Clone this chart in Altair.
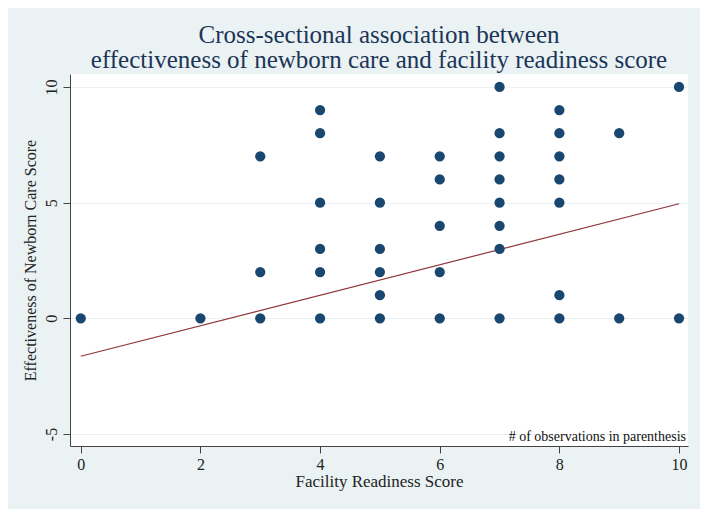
import altair as alt
import pandas as pd

# Observed points (Facility readiness score, Effectiveness of newborn care score)
readiness = [0, 2, 3, 3, 3, 4, 4, 4, 4, 4, 4, 5, 5, 5, 5, 5, 5,
             6, 6, 6, 6, 6, 7, 7, 7, 7, 7, 7, 7, 7,
             8, 8, 8, 8, 8, 8, 8, 9, 9, 10, 10]
effectiveness = [0, 0, 7, 2, 0, 9, 8, 5, 3, 2, 0, 7, 5, 3, 2, 1, 0,
                 7, 6, 4, 2, 0, 10, 8, 7, 6, 5, 4, 3, 0,
                 9, 8, 7, 6, 5, 1, 0, 8, 0, 10, 0]

# Fitted line endpoints
fit_x = [0, 10]
fit_y = [-1.64, 4.95]

x_ticks = [0, 2, 4, 6, 8, 10]
y_ticks = [-5, 0, 5, 10]

title_lines = ["Cross-sectional association between",
               "effectiveness of newborn care and facility readiness score"]
note = "# of observations in parenthesis"

SERIF = "Liberation Serif"
BG = "#EAF2F3"
NAVY = "#1a476f"
MAROON = "#90353b"

pts = pd.DataFrame({"x": readiness, "y": effectiveness})
fit = pd.DataFrame({"x": fit_x, "y": fit_y})
note_df = pd.DataFrame({"t": [note]})

xscale = alt.Scale(domain=[-0.18, 10.15], nice=False, zero=False)
yscale = alt.Scale(domain=[-5.52, 10.56], nice=False, zero=False)

xaxis = alt.Axis(values=x_ticks, title="Facility Readiness Score", grid=False,
                 labelExpr="'' + datum.value",
                 labelFont=SERIF, labelFontSize=16, titleFont=SERIF, titleFontSize=17,
                 titleFontWeight="normal", labelColor="#222", titleColor="#222",
                 domainColor="#444", tickColor="#444", tickSize=7, labelPadding=3,
                 titlePadding=1)
yaxis = alt.Axis(values=y_ticks, title="Effectiveness of Newborn Care Score",
                 grid=True, gridColor=BG, gridWidth=1.2,
                 labelExpr="'' + datum.value",
                 labelFont=SERIF, labelFontSize=16, titleFont=SERIF, titleFontSize=16,
                 titleFontWeight="normal", labelColor="#222", titleColor="#222",
                 domainColor="#444", tickColor="#444", tickSize=7, labelAngle=270,
                 labelPadding=4, titlePadding=5)

points = alt.Chart(pts).mark_circle(size=105, color=NAVY, opacity=1).encode(
    x=alt.X("x:Q", scale=xscale, axis=xaxis),
    y=alt.Y("y:Q", scale=yscale, axis=yaxis),
)

line = alt.Chart(fit).mark_line(color=MAROON, strokeWidth=1.2).encode(
    x=alt.X("x:Q", scale=xscale),
    y=alt.Y("y:Q", scale=yscale),
)

text = alt.Chart(note_df).mark_text(
    font=SERIF, fontSize=14, color="#111", align="right", baseline="bottom"
).encode(
    text="t:N",
    x=alt.value(616),
    y=alt.value(370),
)

chart = alt.layer(line, points, text).properties(
    width=618,
    height=372,
    title=alt.TitleParams(text=title_lines, font=SERIF, fontSize=25,
                          fontWeight="normal", color="#1c3557", anchor="middle",
                          lineHeight=25, offset=1),
    background=BG,
    padding={"left": 62, "top": 66, "right": 12, "bottom": 63},
    autosize=alt.AutoSizeParams(type="none"),
).configure_view(fill="white", stroke=None)

chart.save("out.html", embed_options={"renderer": "svg", "actions": False})
